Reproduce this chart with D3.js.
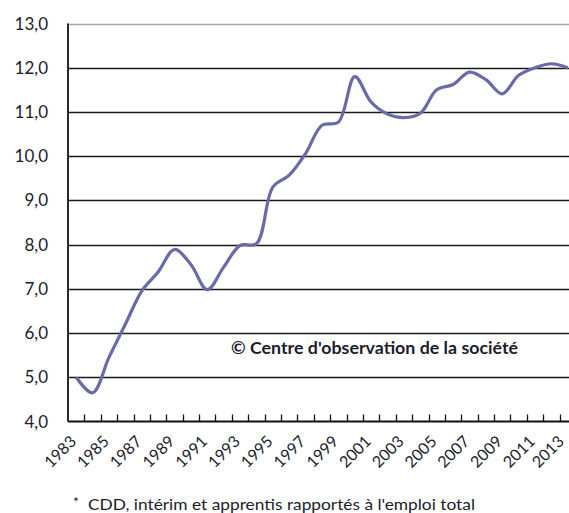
<!DOCTYPE html>
<html>
<head>
<meta charset="utf-8">
<script src="https://cdn.jsdelivr.net/npm/d3@7"></script>
<style>
  html, body { margin: 0; padding: 0; background: #fff; }
  svg { display: block; }
  text { font-family: Lato, "Open Sans", sans-serif; fill: #1c1c2c; }
</style>
</head>
<body>
<svg id="chart" width="569" height="513"></svg>
<script>
const years = d3.range(1983, 2014).map(String);
const values = [5.0, 4.65, 5.45, 6.2, 6.95, 7.38, 7.89, 7.55, 6.98, 7.49, 7.98, 8.02, 9.3, 9.57, 10.06, 10.7, 10.77, 11.8, 11.22, 10.95, 10.87, 10.97, 11.5, 11.62, 11.9, 11.73, 11.41, 11.83, 12.0, 12.09, 12.0];
const yTicks = [4, 5, 6, 7, 8, 9, 10, 11, 12, 13];
const xLabels = years.filter((d, i) => i % 2 === 0);
const watermark = "© Centre d'observation de la société";
const footnote = "CDD, intérim et apprentis rapportés à l'emploi total";

const svg = d3.select("#chart");
const mLeft = 68, mRight = 576, mTop = 23.5, mBottom = 421.5;

const x = d3.scaleBand().domain(years).range([mLeft, mRight]).padding(0);
const y = d3.scaleLinear().domain([4, 13]).range([mBottom, mTop]);
const fmt = v => d3.format(".1f")(v).replace(".", ",");

// gridlines
svg.append("g").selectAll("line").data(yTicks.filter(t => t > 4)).join("line")
  .attr("x1", mLeft).attr("x2", mRight)
  .attr("y1", d => Math.round(y(d)) + 0.5).attr("y2", d => Math.round(y(d)) + 0.5)
  .attr("stroke", d => d === 13 ? "#a8a8a8" : "#1a1a1a")
  .attr("stroke-width", 1.6);

// y axis labels
svg.append("g").selectAll("text").data(yTicks).join("text")
  .attr("x", 48).attr("y", d => y(d) + 6)
  .attr("text-anchor", "end")
  .style("font-size", "17px")
  .text(fmt);

// axis lines
svg.append("line").attr("x1", mLeft).attr("x2", mLeft).attr("y1", mTop).attr("y2", mBottom)
  .attr("stroke", "#111").attr("stroke-width", 1.8);
svg.append("line").attr("x1", mLeft).attr("x2", mRight).attr("y1", mBottom).attr("y2", mBottom)
  .attr("stroke", "#111").attr("stroke-width", 1.8);

// x ticks at category boundaries, pointing inward
svg.append("g").selectAll("line").data(years.slice(1)).join("line")
  .attr("x1", d => Math.round(x(d)) + 0.5).attr("x2", d => Math.round(x(d)) + 0.5)
  .attr("y1", mBottom).attr("y2", mBottom - 7)
  .attr("stroke", "#111").attr("stroke-width", 1.3);

// x labels rotated
svg.append("g").selectAll("text").data(xLabels).join("text")
  .attr("transform", (d, i) => {
    const cx = Math.min(x(d) + x.bandwidth() / 2 + 1, 565);
    return `translate(${cx},${mBottom + 21}) rotate(-45)`;
  })
  .attr("text-anchor", "end")
  .style("font-size", "16px")
  .text(d => d);

// line
const line = d3.line()
  .x((d, i) => x(years[i]) + x.bandwidth() / 2)
  .y(d => y(d))
  .curve(d3.curveCatmullRom.alpha(0.5));
svg.append("path").datum(values)
  .attr("d", line)
  .attr("fill", "none")
  .attr("stroke", "#6a6aa8")
  .attr("stroke-width", 3.2)
  .attr("stroke-linejoin", "round");

// watermark
svg.append("text").attr("x", 231).attr("y", 354)
  .style("font-size", "17px").style("font-weight", "bold")
  .attr("textLength", 287).attr("lengthAdjust", "spacingAndGlyphs")
  .text(watermark);

// footnote
svg.append("text").attr("x", 73).attr("y", 507).style("font-size", "14px").text("*");
svg.append("text").attr("x", 88).attr("y", 510).style("font-size", "16px")
  .attr("textLength", 387).attr("lengthAdjust", "spacingAndGlyphs")
  .text(footnote);
</script>
</body>
</html>
